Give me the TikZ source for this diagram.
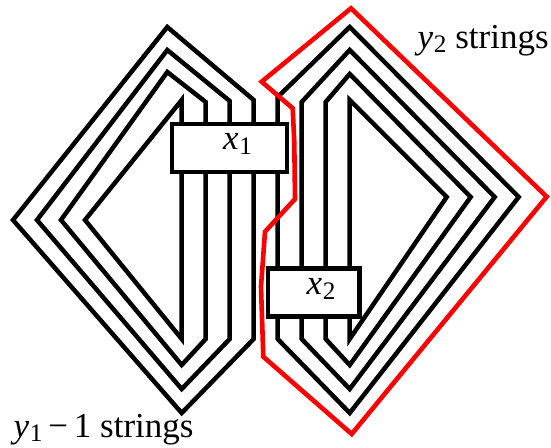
\documentclass[tikz,border=0pt]{standalone}
\usepackage{fontspec}
\setmainfont{Liberation Serif}
\newcommand{\mvar}[2]{\textit{#1}\kern0.02em\raisebox{-0.28ex}{\scalebox{0.72}{#2}}}
\tikzset{
  strand/.style={draw=black,line width=4.5pt,miter limit=10},
  redstrand/.style={draw=red,line width=4.6pt},
  boxnode/.style={draw=black,fill=white,line width=4.5pt,inner sep=0pt,minimum height=48pt},
  lab/.style={inner sep=0pt,scale=3.5},
}
\begin{document}
\begin{tikzpicture}[x=1pt,y=-1pt]
\useasboundingbox (0,0) rectangle (551,447);
% left family
\draw[strand] (85,220) -- (181.7,100) -- (181.7,339) -- cycle;
\draw[strand] (61,220) -- (167.3,72) -- (205.7,102) -- (205.7,339) -- (181.7,365) -- cycle;
\draw[strand] (37,220) -- (167.3,50) -- (229.7,101) -- (229.7,339) -- (181.7,389) -- cycle;
\draw[strand] (13,220) -- (167.3,27) -- (253.7,100) -- (253.7,339) -- (181.7,413) -- cycle;
% right family
\draw[strand] (349.7,100) -- (446.7,197) -- (349.7,339) -- cycle;
\draw[strand] (325.7,102) -- (349.7,74) -- (470.7,197) -- (349.7,365) -- (325.7,339) -- cycle;
\draw[strand] (301.7,102) -- (349.7,50) -- (494.7,197) -- (349.7,389) -- (301.7,339) -- cycle;
\draw[strand] (277.7,97) -- (349.7,27) -- (518.7,197) -- (349.7,413) -- (277.7,339) -- cycle;
% boxes
\node[boxnode,minimum width=115pt] (b1) at (229.5,148) {};
\node[boxnode,minimum width=91.3pt] (b2) at (313.6,292.3) {};
\node[lab] (l1) at (237.5,144) {\mvar{x}{1}};
\node[lab] (l2) at (321,289) {\mvar{x}{2}};
% red strand
\draw[redstrand] (351,8.3) -- (546.7,196.7) -- (351.7,434) -- (263.3,356.7) -- (261,286.7) -- (265,231.7) -- (295,199) -- (294.3,143) -- (292.7,108.3) -- (261.7,81.7) -- cycle;
% labels
\node[lab,anchor=base west] (ty2) at (417,48) {\mvar{y}{2} strings};
\node[lab,anchor=base west] (ty1) at (13,437) {\mvar{y}{1}\,−\,1 strings};
\end{tikzpicture}
\end{document}
